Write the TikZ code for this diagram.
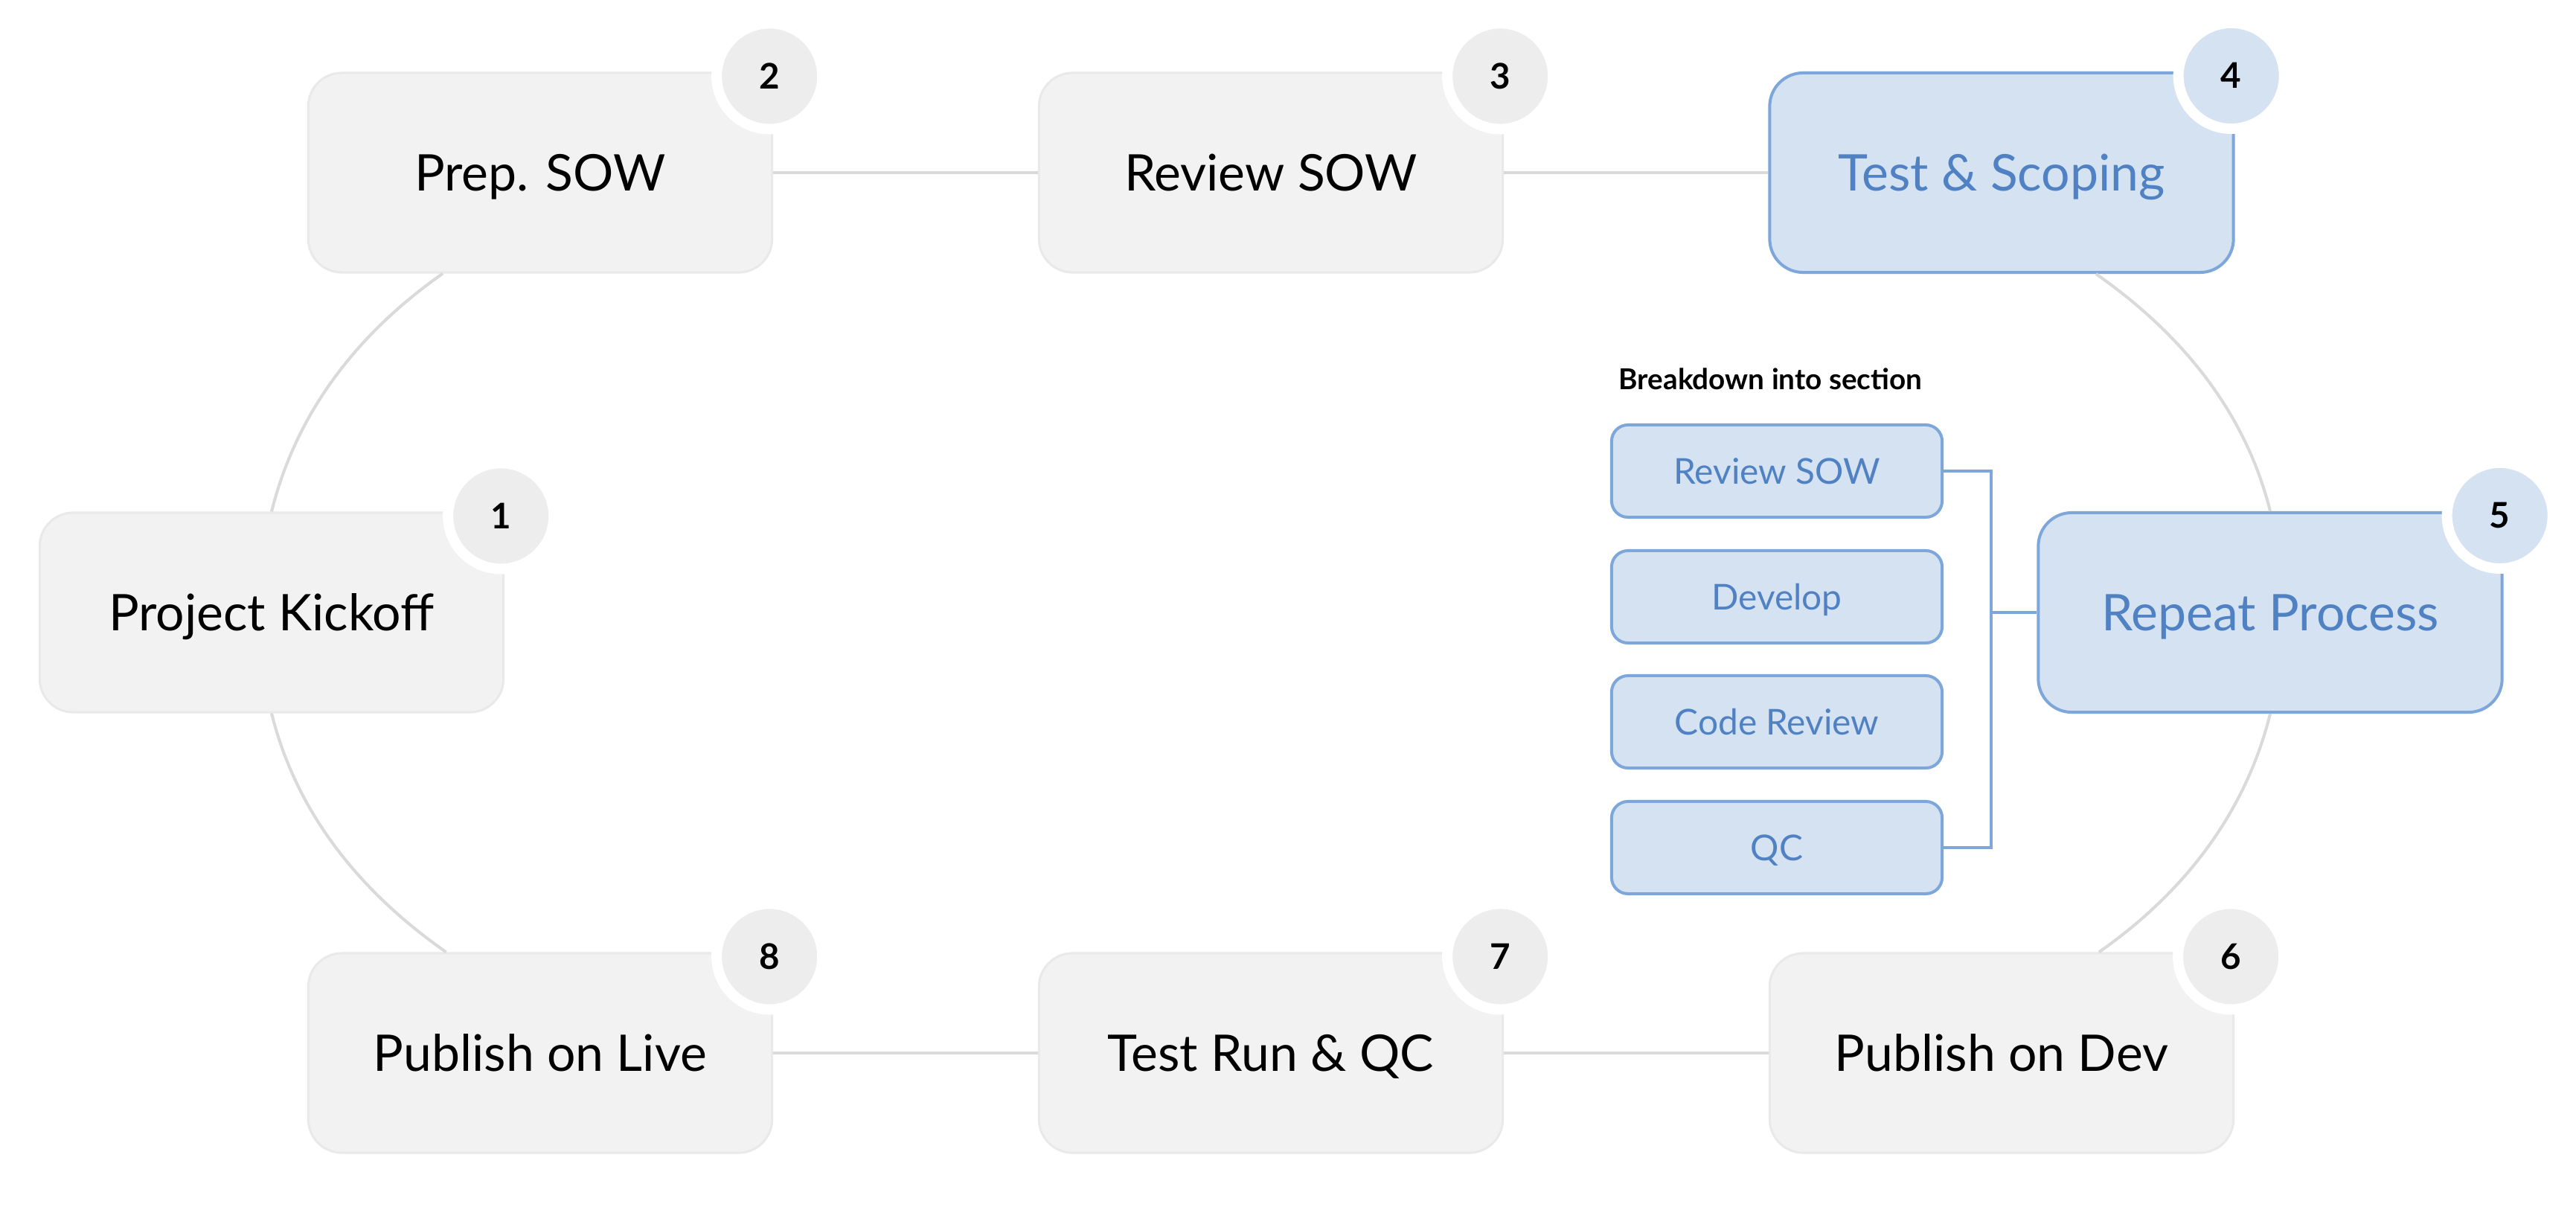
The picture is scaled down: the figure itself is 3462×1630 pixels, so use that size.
\documentclass[tikz,border=0pt]{standalone}
\usepackage{fontspec}
\setmainfont{Lato}
\definecolor{stagefill}{HTML}{F2F2F2}
\definecolor{stageline}{HTML}{E9E9E9}
\definecolor{badgegray}{HTML}{EDEDED}
\definecolor{linkgray}{HTML}{DADADA}
\definecolor{hifill}{HTML}{D5E2F1}
\definecolor{hiline}{HTML}{7DA7DB}
\definecolor{hitext}{HTML}{4F81C3}

\begin{document}
\begin{tikzpicture}[x=0.01cm,y=-0.01cm,
	stage/.style={draw=stageline,fill=stagefill,line width=0.03cm,rounded corners=0.45cm,
		minimum width=6.23cm,minimum height=2.68cm,inner sep=0pt,text height=0.48cm,text depth=0pt,
		font=\fontsize{19.3}{21}\selectfont},
	stagehi/.style={stage,draw=hiline,fill=hifill,text=hitext,line width=0.04cm},
	part/.style={draw=hiline,fill=hifill,text=hitext,line width=0.04cm,rounded corners=0.22cm,
		minimum width=4.44cm,minimum height=1.24cm,inner sep=0pt,text height=0.34cm,text depth=0pt,
		font=\fontsize{13.6}{15}\selectfont},
	badge/.style={circle,draw=white,line width=0.14cm,minimum size=1.42cm,inner sep=0pt,
		text height=0.34cm,text depth=0pt,font=\bfseries\fontsize{13.5}{15}\selectfont},
	link/.style={draw=linkgray,line width=0.04cm},
	brace/.style={draw=hiline,line width=0.04cm}]
		\fill[white] (0,0) rectangle (3462,1630);
		\useasboundingbox (0,0) rectangle (3462,1630);

		% the eight stages
		\node [stage] (kick) at (365,823) {Project Kickoff};
		\node [stage] (prep) at (726,232) {Prep. SOW};
		\node [stage] (review) at (1708,232) {Review SOW};
		\node [stagehi] (test) at (2690,232) {Test \& Scoping};
		\node [stagehi] (repeat) at (3051,823) {Repeat Process};
		\node [stage] (dev) at (2690,1415) {Publish on Dev};
		\node [stage] (run) at (1708,1415) {Test Run \& QC};
		\node [stage] (live) at (726,1415) {Publish on Live};

		% breakdown of step 5
		\node [anchor=base west,inner sep=0pt,font=\bfseries\fontsize{11}{13}\selectfont] (bdtitle) at (2175,523) {Breakdown into section};
		\node [part] (subreview) at (2388,633) {Review SOW};
		\node [part] (subdev) at (2388,802) {Develop};
		\node [part] (subcode) at (2388,970) {Code Review};
		\node [part] (subqc) at (2388,1139) {QC};
		\coordinate (bus) at (2676,823);
		\draw[brace] (subreview.east) -| (bus) |- (subqc.east);
		\draw[brace] (bus) -- (repeat);

		% connectors
		\draw[link] (prep) -- (review);
		\draw[link] (review) -- (test);
		\draw[link] (live) -- (run);
		\draw[link] (run) -- (dev);
		\draw[link] (prep.226.8) to[out=215,in=76,looseness=0.9] (kick.north);
		\draw[link] (kick.south) to[out=-76,in=145,looseness=0.9] (live.133.2);
		\draw[link] (test.313.2) to[out=-35,in=104,looseness=0.9] (repeat.north);
		\draw[link] (repeat.south) to[out=256,in=35,looseness=0.9] (dev.46.8);

		% number badges
		\foreach \n/\b/\c in {kick/1/badgegray,prep/2/badgegray,review/3/badgegray,test/4/hifill,
			repeat/5/hifill,dev/6/badgegray,run/7/badgegray,live/8/badgegray}
			\node [badge,fill=\c] (badge\b) at ([shift={(-5,6)}]\n.north east) {\b};
	\end{tikzpicture}
\end{document}
